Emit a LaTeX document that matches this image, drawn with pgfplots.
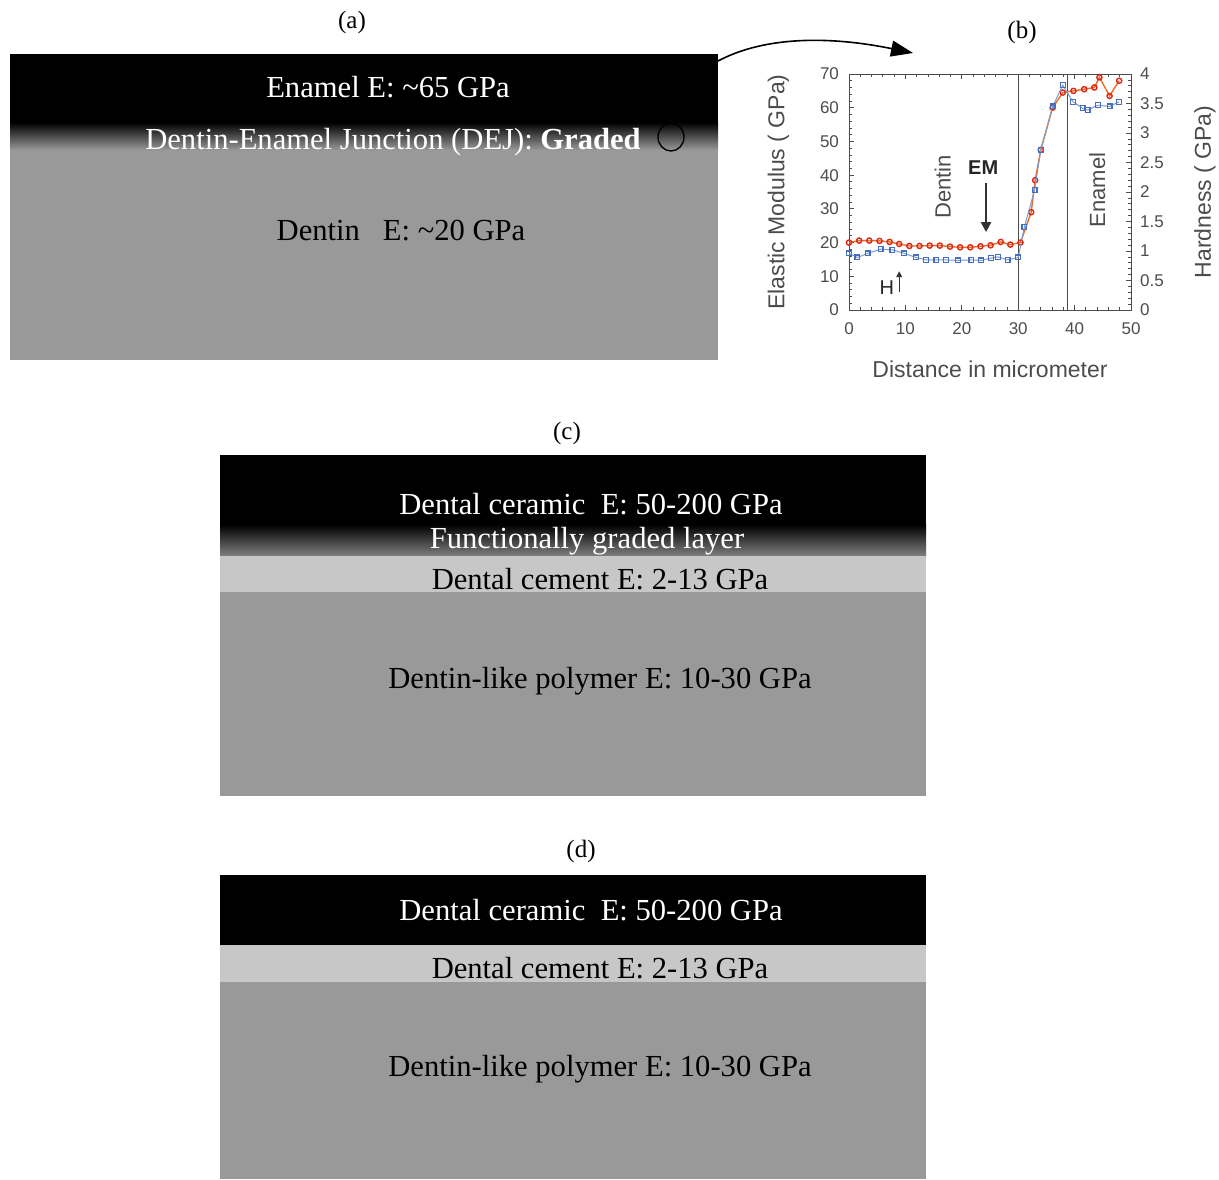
\documentclass[border=0pt]{standalone}
\usepackage{fontspec}
\setmainfont{Liberation Serif}
\setsansfont{Liberation Sans}
\usepackage{pgfplots}
\pgfplotsset{compat=1.18}
\usetikzlibrary{arrows.meta}
\definecolor{panelgray}{gray}{0.60}
\definecolor{cementgray}{gray}{0.78}
\definecolor{gradend}{gray}{0.50}
\definecolor{emred}{RGB}{220,40,20}
\definecolor{emline}{RGB}{235,110,40}
\definecolor{hblue}{RGB}{70,110,190}
\definecolor{axgray}{gray}{0.30}
\newcommand{\ptext}{\fontsize{15.3}{18}\selectfont}
\newcommand{\lbl}{\fontsize{12.5}{15}\selectfont}
\begin{document}
\begin{tikzpicture}
\begin{scope}[x=0.5pt,y=-0.5pt]
% ---------- panel (a)
\node[font=\lbl] at (352,22) {(a)};
\fill[black] (10,54) rectangle (718,123);
\shade[top color=black,bottom color=panelgray] (10,122.5) rectangle (718,150);
\fill[panelgray] (10,149.5) rectangle (718,360);
\node[font=\ptext,text=white] at (388,87) {Enamel E: \textasciitilde65 GPa};
\node[font=\ptext,text=white] at (393,142) {Dentin-Enamel Junction (DEJ): \textbf{Graded}};
\draw[black,line width=0.7pt] (671,137) ellipse [x radius=13, y radius=14];
\node[font=\ptext,text=black] at (401,231) {Dentin\ \ \ E: \textasciitilde20 GPa};
\draw[line width=0.8pt,-{Triangle[length=11pt,width=8pt]}] (718,61) .. controls (765,36) and (830,36) .. (913,53);
% ---------- panel (b) label
\node[font=\lbl] at (1022,32) {(b)};
% ---------- panel (c)
\node[font=\lbl] at (567,433) {(c)};
\fill[black] (220,455) rectangle (926,525);
\shade[top color=black,bottom color=gradend] (220,524.5) rectangle (926,556);
\fill[cementgray] (220,555.5) rectangle (926,592);
\fill[panelgray] (220,591.5) rectangle (926,796);
\node[font=\ptext,text=white] at (591,504) {Dental ceramic\ \ E: 50-200 GPa};
\node[font=\ptext,text=white] at (587,541) {Functionally graded layer};
\node[font=\ptext,text=black] at (600,579) {Dental cement E: 2-13 GPa};
\node[font=\ptext,text=black] at (600,681) {Dentin-like polymer E: 10-30 GPa};
% ---------- panel (d)
\node[font=\lbl] at (581,851) {(d)};
\fill[black] (220,875) rectangle (926,945);
\fill[cementgray] (220,944.5) rectangle (926,982);
\fill[panelgray] (220,981.5) rectangle (926,1179);
\node[font=\ptext,text=white] at (591,910) {Dental ceramic\ \ E: 50-200 GPa};
\node[font=\ptext,text=black] at (600,968) {Dental cement E: 2-13 GPa};
\node[font=\ptext,text=black] at (600,1069) {Dentin-like polymer E: 10-30 GPa};
\end{scope}
% ---------- plot (b)
\begin{axis}[at={(424.5pt,-155pt)}, anchor=south west,
  width=141pt, height=118pt, scale only axis,
  xmin=0, xmax=50, ymin=0, ymax=70,
  xtick={0,10,...,50}, ytick={0,10,...,70},
  minor x tick num=4, minor y tick num=4,
  xtick pos=both, xticklabel pos=lower, ytick pos=left,
  tick align=inside,
  axis line style={axgray},
  every tick/.style={axgray},
  major tick length=2.5pt, minor tick length=1.3pt,
  ticklabel style={font=\sffamily\fontsize{8.5}{9}\selectfont, text=axgray},
  xticklabel style={yshift=-3pt},
  yticklabel style={xshift=-1.5pt},
  /pgf/number format/assume math mode=true,
  xlabel={Distance in micrometer},
  ylabel={Elastic Modulus ( GPa)},
  every axis x label/.style={at={(axis description cs:0.5,-0.25)}, anchor=center, font=\sffamily\fontsize{11.5}{13}\selectfont, text=axgray},
  every axis y label/.style={at={(axis description cs:-0.25,0.5)}, rotate=90, anchor=center, font=\sffamily\fontsize{11.5}{13}\selectfont, text=axgray},
  clip=false]
\addplot[axgray, line width=0.4pt] coordinates {(30,0) (30,70)};
\addplot[axgray, line width=0.4pt] coordinates {(38.8,0) (38.8,70)};
\addplot[emline, line width=0.7pt, mark=o, mark size=1.3pt, mark options={emred, line width=0.7pt, solid}]
 coordinates {(0,20) (1.8,20.6) (3.6,20.6) (5.4,20.5) (7.2,20.2) (8.9,19.6) (10.7,19) (12.5,19) (14.3,19.1) (16.1,19.1) (17.9,18.8) (19.7,18.6) (21.5,18.6) (23.3,18.9) (25.1,19.2) (26.9,20.2) (28.6,19.4) (30.4,20) (32.3,29) (33,38.5) (34,47.5) (36.1,60) (37.9,64.5) (39.8,65) (41.7,65.5) (43.5,66) (44.4,69) (46.2,63.5) (47.9,68)};
\node[font=\sffamily\fontsize{11}{12}\selectfont, text=axgray, rotate=90] at (axis cs:16.6,36.5) {Dentin};
\node[font=\sffamily\bfseries\fontsize{10}{12}\selectfont, text=black!85] at (axis cs:23.8,42.1) {EM};
\draw[black!80, line width=1.2pt, -{Triangle[length=5pt,width=5pt]}] (axis cs:24.3,37.7) -- (axis cs:24.3,23.1);
\node[font=\sffamily\fontsize{10}{12}\selectfont, text=black!85] at (axis cs:6.7,6.6) {H};
\draw[black!80, line width=0.6pt, -{Triangle[length=3pt,width=3pt]}] (axis cs:8.9,5.2) -- (axis cs:8.9,11.5);
\node[font=\sffamily\fontsize{11}{12}\selectfont, text=axgray, rotate=90] at (axis cs:44,35.6) {Enamel};
\end{axis}
\begin{axis}[at={(424.5pt,-155pt)}, anchor=south west,
  width=141pt, height=118pt, scale only axis,
  xmin=0, xmax=50, ymin=0, ymax=4,
  axis x line=none, axis y line*=right,
  ytick={0,0.5,...,4}, minor y tick num=4,
  tick align=inside,
  axis line style={axgray, -},
  every tick/.style={axgray},
  major tick length=2.5pt, minor tick length=1.3pt,
  ticklabel style={font=\sffamily\fontsize{8.5}{9}\selectfont, text=axgray},
  yticklabel style={xshift=1pt},
  /pgf/number format/assume math mode=true,
  ylabel={Hardness ( GPa)},
  every axis y label/.style={at={(axis description cs:1.262,0.5)}, rotate=90, anchor=center, font=\sffamily\fontsize{11.5}{13}\selectfont, text=axgray},
  clip=false]
\addplot[hblue!70, line width=0.5pt, mark=square, mark size=1.2pt, mark options={hblue, line width=0.6pt, solid}]
 coordinates {(0,0.96) (1.5,0.89) (3.3,0.96) (5.6,1.03) (7.7,1.02) (9.8,0.96) (11.9,0.89) (13.7,0.85) (15.5,0.85) (17.2,0.85) (19.3,0.84) (21.7,0.85) (23.4,0.84) (25.2,0.88) (26.4,0.9) (28.1,0.85) (30,0.89) (31.1,1.41) (32.9,2.03) (34,2.71) (36.1,3.45) (37.9,3.81) (39.7,3.53) (41.4,3.42) (42.3,3.39) (44.1,3.47) (46.2,3.45) (47.9,3.53)};
\end{axis}
\pgfresetboundingbox
\path (0pt,0pt) rectangle (609.5pt,-589.5pt);
\end{tikzpicture}
\end{document}
